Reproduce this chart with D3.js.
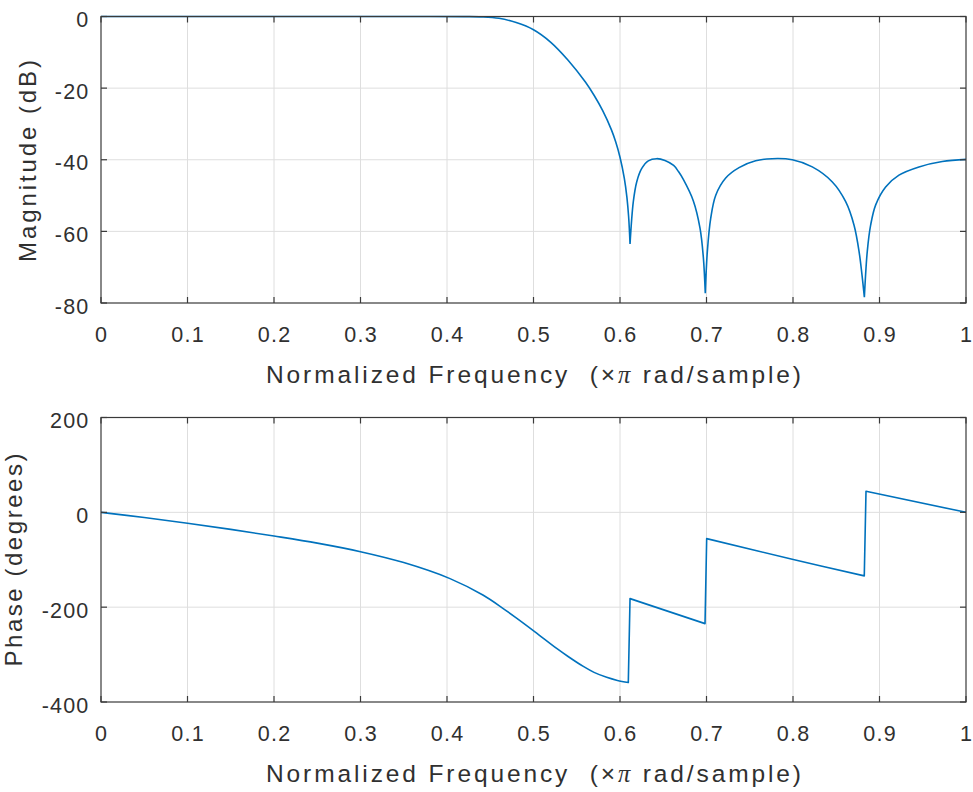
<!DOCTYPE html>
<html>
<head>
<meta charset="utf-8">
<script src="https://cdn.jsdelivr.net/npm/d3@7"></script>
<style>
  html, body { margin: 0; padding: 0; background: #fff; }
  text { font-family: "Liberation Sans", Arial, Helvetica, sans-serif; fill: #303030; white-space: pre; }
</style>
</head>
<body>
<svg id="chart" width="973" height="792"></svg>
<script>
// ---------------- DATA ----------------
const xTicks = [0, 0.1, 0.2, 0.3, 0.4, 0.5, 0.6, 0.7, 0.8, 0.9, 1];
const xTickLabels = ["0", "0.1", "0.2", "0.3", "0.4", "0.5", "0.6", "0.7", "0.8", "0.9", "1"];
const magTicks = [0, -20, -40, -60, -80];
const magTickLabels = ["0", "-20", "-40", "-60", "-80"];
const phaseTicks = [200, 0, -200, -400];
const phaseTickLabels = ["200", "0", "-200", "-400"];
const xLabelMain = "Normalized Frequency  (";
const xLabelTimes = "\u00D7";
const xLabelPi = "\u03C0";
const xLabelEnd = " rad/sample)";
const magLabel = "Magnitude (dB)";
const phaseLabel = "Phase (degrees)";

// Magnitude response (normalized frequency, dB).
const magFreq = [0, 0.1, 0.2, 0.3, 0.38, 0.42, 0.44, 0.46, 0.48, 0.50, 0.52, 0.54, 0.56, 0.57, 0.58, 0.59, 0.595, 0.60, 0.605, 0.608, 0.610, 0.6116,
  0.6154, 0.6193, 0.625, 0.6327, 0.6424, 0.652, 0.662, 0.6676, 0.6732, 0.6848, 0.6925, 0.6964, 0.6986,
  0.7010, 0.7049, 0.7107, 0.7222, 0.7376, 0.7568, 0.776, 0.7992, 0.8223, 0.8455, 0.8609, 0.8705, 0.8763, 0.8825,
  0.8859, 0.8898, 0.8956, 0.9071, 0.9225, 0.9456, 0.9726, 1.0];
const magDb = [0, 0, 0, 0, 0, -0.03, -0.1, -0.5, -1.7, -3.7, -7.2, -12.2, -18.3, -22.0, -26.3, -31.6, -35.0, -39.3, -45.2, -50.5, -56, -63.5,
  -51.7, -46.2, -42.5, -40.3, -39.7, -40.2, -41.6, -43.3, -45.5, -51.5, -59.1, -67.4, -77.3,
  -65.5, -56.3, -49.9, -45.1, -42.2, -40.3, -39.7, -40.0, -42.0, -46.2, -51.7, -58.2, -65.5, -78.4,
  -65.5, -58.2, -52.6, -47.6, -44.3, -42.0, -40.5, -39.9];
// indices of the notches (sharp minima), used to split the curve into smooth pieces
const magNotches = [21, 34, 48];

// Phase response (normalized frequency, degrees).
const phaseFreq = [0, 0.05, 0.1, 0.15, 0.2, 0.25, 0.3, 0.35, 0.4035, 0.442, 0.465, 0.48, 0.5017, 0.5268, 0.54, 0.5576, 0.57, 0.5846, 0.597, 0.6096,
  0.6116, 0.6983,
  0.7002, 0.8003, 0.8824,
  0.8844, 1.0];
const phaseDeg = [0, -11, -23, -36, -50, -65, -83, -106, -139.8, -175, -203, -222.5, -252, -287, -304, -325, -337.5, -348, -354.5, -359,
  -182, -234.7,
  -55.5, -99.5, -134,
  44.5, 0];
// indices where the phase jumps (straight vertical connection)
const phaseJumps = [20, 22, 25];

// ---------------- LAYOUT ----------------
const svg = d3.select("#chart");
const left = 101, right = 966;
const panels = [
  { top: 16.5, bottom: 303, domain: [-80, 0], ticks: magTicks, tickLabels: magTickLabels,
    label: magLabel, labelX: 36, labelLen: 202, labelCY: 161,
    xs: magFreq, ys: magDb, splits: magNotches, mode: "notch" },
  { top: 417.5, bottom: 702, domain: [-400, 200], ticks: phaseTicks, tickLabels: phaseTickLabels,
    label: phaseLabel, labelX: 22, labelLen: 213, labelCY: 560,
    xs: phaseFreq, ys: phaseDeg, splits: phaseJumps, mode: "jump" }
];

const x = d3.scaleLinear().domain([0, 1]).range([left, right]);
const axisColor = "#3a3a3a";
const gridColor = "#dedede";
const lineColor = "#0072BD";

panels.forEach(p => {
  const y = d3.scaleLinear().domain(p.domain).range([p.bottom, p.top]);
  const g = svg.append("g");

  // grid
  g.append("g").selectAll("line").data(xTicks.slice(1, -1)).join("line")
    .attr("x1", d => x(d)).attr("x2", d => x(d))
    .attr("y1", p.top).attr("y2", p.bottom)
    .attr("stroke", gridColor).attr("stroke-width", 1);
  const innerY = p.ticks.filter(t => t > p.domain[0] && t < p.domain[1]);
  g.append("g").selectAll("line").data(innerY).join("line")
    .attr("x1", left).attr("x2", right)
    .attr("y1", d => y(d)).attr("y2", d => y(d))
    .attr("stroke", gridColor).attr("stroke-width", 1);

  // data line
  const line = d3.line().x(d => x(d[0])).y(d => y(d[1])).curve(d3.curveCatmullRom.alpha(0.5));
  const pts = p.xs.map((v, i) => [v, p.ys[i]]);
  const pieces = [];
  let d = "";
  if (p.mode === "notch") {
    let start = 0;
    p.splits.forEach(s => { pieces.push(pts.slice(start, s + 1)); start = s; });
    pieces.push(pts.slice(start));
    d = pieces.map(pc => line(pc)).join(" ");
  } else {
    let start = 0;
    p.splits.forEach(s => { pieces.push(pts.slice(start, s)); start = s; });
    pieces.push(pts.slice(start));
    pieces.forEach((pc, k) => {
      let seg = line(pc);
      if (k > 0) seg = "L" + seg.slice(1);
      d += seg;
    });
  }
  g.append("path").attr("d", d)
    .attr("fill", "none").attr("stroke", lineColor).attr("stroke-width", 1.6)
    .attr("stroke-linejoin", "round");

  // box
  g.append("rect").attr("x", left).attr("y", p.top)
    .attr("width", right - left).attr("height", p.bottom - p.top)
    .attr("fill", "none").attr("stroke", axisColor).attr("stroke-width", 1.2);

  // ticks (inside, on all four sides)
  const tl = 6;
  xTicks.forEach(t => {
    g.append("line").attr("x1", x(t)).attr("x2", x(t)).attr("y1", p.bottom).attr("y2", p.bottom - tl)
      .attr("stroke", axisColor).attr("stroke-width", 1.2);
    g.append("line").attr("x1", x(t)).attr("x2", x(t)).attr("y1", p.top).attr("y2", p.top + tl)
      .attr("stroke", axisColor).attr("stroke-width", 1.2);
  });
  p.ticks.forEach(t => {
    g.append("line").attr("x1", left).attr("x2", left + tl).attr("y1", y(t)).attr("y2", y(t))
      .attr("stroke", axisColor).attr("stroke-width", 1.2);
    g.append("line").attr("x1", right).attr("x2", right - tl).attr("y1", y(t)).attr("y2", y(t))
      .attr("stroke", axisColor).attr("stroke-width", 1.2);
  });

  // tick labels
  g.append("g").selectAll("text").data(xTicks).join("text")
    .attr("x", d => x(d) + 0.6).attr("y", p.bottom + 39)
    .attr("text-anchor", "middle").attr("font-size", 21.5).attr("letter-spacing", 1.2)
    .text((d, i) => xTickLabels[i]);
  g.append("g").selectAll("text").data(p.ticks).join("text")
    .attr("x", 89.5).attr("y", d => y(d) + 10.5)
    .attr("text-anchor", "end").attr("font-size", 21.5).attr("letter-spacing", 1.2)
    .text((d, i) => p.tickLabels[i]);

  // x axis label
  const xl = g.append("text").attr("x", (left + right) / 2).attr("y", p.bottom + 80)
    .attr("text-anchor", "middle").attr("font-size", 24.5)
    .attr("textLength", 535).attr("lengthAdjust", "spacing");
  xl.append("tspan").text(xLabelMain);
  xl.append("tspan").text(xLabelTimes);
  xl.append("tspan").attr("font-family", "'Liberation Serif', 'DejaVu Serif', serif").attr("font-style", "italic").text(xLabelPi);
  xl.append("tspan").text(xLabelEnd);

  // y axis label
  g.append("text")
    .attr("transform", `translate(${p.labelX},${p.labelCY}) rotate(-90)`)
    .attr("text-anchor", "middle").attr("font-size", 24)
    .attr("textLength", p.labelLen).attr("lengthAdjust", "spacing")
    .text(p.label);
});
</script>
</body>
</html>
